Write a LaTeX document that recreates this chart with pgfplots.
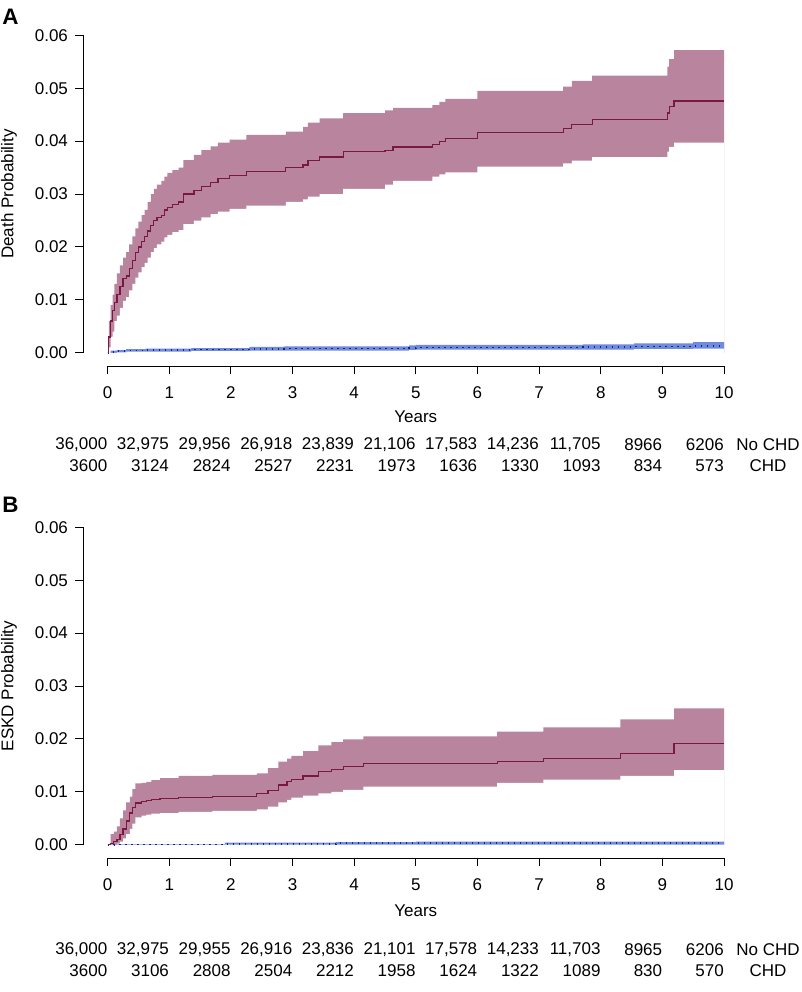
\documentclass[border=0pt]{standalone}
\usepackage{pgfplots}
\pgfplotsset{compat=1.18}
\usepackage{pgfplotstable}
\usepackage{fontspec}
\setmainfont{Liberation Sans}

\definecolor{chdband}{RGB}{184,132,158}
\definecolor{chdline}{RGB}{122,24,64}
\definecolor{noband}{RGB}{112,138,224}
\definecolor{noline}{RGB}{25,35,120}

% Panel A: CHD (death)
\pgfplotstableread{
t    est     lo      hi
0    0       0       0
0.02 0.003   0.001   0.006
0.05 0.006   0.003   0.009
0.08 0.008   0.004   0.011
0.11 0.0095  0.006   0.013
0.15 0.011   0.007   0.015
0.20 0.0125  0.0085  0.0165
0.25 0.014   0.0098  0.018
0.30 0.0145  0.0105  0.019
0.35 0.016   0.0118  0.0205
0.40 0.0175  0.013   0.022
0.45 0.019   0.0142  0.0235
0.50 0.020   0.0152  0.0248
0.55 0.021   0.0162  0.026
0.60 0.022   0.017   0.027
0.65 0.023   0.018   0.0285
0.70 0.024   0.019   0.030
0.75 0.025   0.0198  0.031
0.80 0.0255  0.0205  0.0318
0.87 0.026   0.021   0.0325
0.92 0.027   0.0218  0.0333
0.97 0.0275  0.0223  0.034
1.05 0.028   0.0228  0.0345
1.15 0.0285  0.0232  0.035
1.23 0.0300  0.0243  0.0364
1.40 0.0307  0.025   0.0374
1.52 0.0315  0.0256  0.0383
1.67 0.0322  0.0262  0.039
1.79 0.0330  0.0267  0.0397
1.98 0.0335  0.0272  0.0403
2.25 0.0342  0.0278  0.0412
2.89 0.0350  0.0285  0.0418
3.17 0.0355  0.029   0.0427
3.25 0.0364  0.0295  0.0435
3.44 0.0370  0.030   0.0443
3.82 0.0380  0.031   0.0453
4.50 0.0383  0.0318  0.0458
4.63 0.0389  0.0325  0.0463
5.27 0.0393  0.0333  0.0468
5.38 0.0399  0.0337  0.0474
5.48 0.0405  0.0341  0.0480
6.00 0.0416  0.0352  0.0495
7.39 0.0424  0.0358  0.0503
7.53 0.0432  0.0363  0.0514
7.86 0.0441  0.0370  0.0524
9.08 0.0453  0.0380  0.0541
9.11 0.0465  0.0389  0.0555
9.19 0.0476  0.0397  0.0572
10.0 0.0476  0.0397  0.0572
}\deathchd

% Panel A: No CHD (death)
\pgfplotstableread{
t    est     lo      hi
0    0       0       0
0.05 0.0002  0.0000  0.0004
0.15 0.0003  0.0001  0.0005
0.30 0.0004  0.0002  0.0007
0.62 0.0005  0.0002  0.0008
1.36 0.0006  0.0003  0.0009
2.30 0.0007  0.0004  0.0011
2.86 0.0008  0.0004  0.0012
4.89 0.0009  0.0005  0.0014
5.00 0.0010  0.0006  0.0015
7.71 0.0011  0.0006  0.0016
8.54 0.0012  0.0007  0.0018
9.50 0.0013  0.0008  0.0020
10.0 0.0013  0.0008  0.0020
}\deathno

% Panel B: CHD (ESKD)
\pgfplotstableread{
t    est     lo      hi
0    0       0       0
0.05 0.0003  0       0.002
0.10 0.0006  0       0.0025
0.15 0.001   0.0002  0.0035
0.20 0.002   0.0006  0.005
0.25 0.003   0.0012  0.0065
0.30 0.0045  0.002   0.008
0.36 0.006   0.003   0.0091
0.40 0.007   0.0040  0.0105
0.45 0.0079  0.0052  0.0116
0.55 0.0082  0.0055  0.0117
0.63 0.0084  0.0057  0.0119
0.71 0.0086  0.0059  0.0122
0.85 0.0087  0.006   0.0126
1.15 0.0089  0.0062  0.0130
1.70 0.0091  0.0064  0.0132
2.42 0.0097  0.0067  0.0135
2.60 0.0103  0.0072  0.0145
2.77 0.0113  0.0080  0.0157
2.91 0.0119  0.0085  0.0163
2.98 0.0124  0.0089  0.0168
3.17 0.0130  0.0093  0.0177
3.42 0.0138  0.0097  0.0188
3.63 0.0143  0.0100  0.0194
3.82 0.0148  0.0104  0.0199
4.15 0.0153  0.0110  0.0205
6.32 0.0158  0.0117  0.0214
7.07 0.0163  0.0123  0.0222
8.32 0.0172  0.0130  0.0237
9.19 0.0191  0.0141  0.0258
10.0 0.0191  0.0141  0.0258
}\eskdchd

% Panel B: No CHD (ESKD)
\pgfplotstableread{
t    est      lo      hi
0    0        0       0
0.10 0.00003  0.00000 0.00010
1.90 0.0002   0.00003 0.0004
3.70 0.0003   0.00005 0.0005
5.00 0.0003   0.00005 0.0006
10.0 0.0003   0.00005 0.0006
}\eskdno

\pgfplotsset{
  km/.style={
    scale only axis, width=320.5pt, height=165.35pt,
    xmin=-0.4, xmax=10, ymin=-0.0025, ymax=0.06,
    axis lines*=left, axis line style={draw=none},
    tick align=outside, major tick length=4pt,
    tick style={black, line width=0.5pt},
    xtick={0,1,2,3,4,5,6,7,8,9,10},
    ytick={0,0.01,0.02,0.03,0.04,0.05,0.06},
    scaled y ticks=false,
    clip=false,
    tick label style={font=\fontsize{8.5}{10}\selectfont},
    xticklabel style={yshift=-3pt},
    /pgf/number format/assume math mode=true,
    yticklabel style={/pgf/number format/fixed, /pgf/number format/fixed zerofill, /pgf/number format/precision=2},
  },
  bandhi/.style={const plot, draw=none, fill=#1, forget plot},
  bandlo/.style={const plot, draw=none, fill=white, forget plot},
  dotline/.style={const plot, noline, line width=0.8pt, dash pattern=on 0.6pt off 2.4pt},
}

\begin{document}
\begin{tikzpicture}[font=\fontsize{8.5}{10}\selectfont]
\useasboundingbox (0,0) rectangle (401pt,-496pt);

% ---------------- Panel A ----------------
\begin{axis}[km, at={(41.5pt,-183pt)}, anchor=south west]
  \addplot[bandhi=chdband] table[x=t,y=hi]{\deathchd} \closedcycle;
  \addplot[bandlo] table[x=t,y=lo]{\deathchd} \closedcycle;
  \addplot[bandhi=noband] table[x=t,y=hi]{\deathno} \closedcycle;
  \addplot[bandlo] table[x=t,y=lo]{\deathno} \closedcycle;
  \addplot[dotline] table[x=t,y=est]{\deathno};
  \addplot[const plot, chdline, line width=0.6pt] table[x=t,y=est]{\deathchd};
  \draw[line width=0.5pt] (axis cs:0,-0.0025) -- (axis cs:10,-0.0025);
  \draw[line width=0.5pt] (axis cs:-0.4,0) -- (axis cs:-0.4,0.06);
\end{axis}

% ---------------- Panel B ----------------
\begin{axis}[km, at={(41.5pt,-429pt)}, anchor=south west]
  \addplot[bandhi=chdband] table[x=t,y=hi]{\eskdchd} \closedcycle;
  \addplot[bandlo] table[x=t,y=lo]{\eskdchd} \closedcycle;
  \addplot[bandhi=noband] table[x=t,y=hi]{\eskdno} \closedcycle;
  \addplot[bandlo] table[x=t,y=lo]{\eskdno} \closedcycle;
  \addplot[dotline] table[x=t,y=est]{\eskdno};
  \addplot[const plot, chdline, line width=0.6pt] table[x=t,y=est]{\eskdchd};
  \draw[line width=0.5pt] (axis cs:0,-0.0025) -- (axis cs:10,-0.0025);
  \draw[line width=0.5pt] (axis cs:-0.4,0) -- (axis cs:-0.4,0.06);
\end{axis}

% panel letters
\node[font=\fontsize{11.2}{13}\selectfont\bfseries] at (5.25pt,-8.5pt) {A};
\node[font=\fontsize{11.2}{13}\selectfont\bfseries] at (5.25pt,-252.5pt) {B};

% axis titles
\node[rotate=90] at (4.5pt,-97pt) {Death Probability};
\node[rotate=90] at (4.5pt,-343pt) {ESKD Probability};
\node at (207.9pt,-208.5pt) {Years};
\node at (207.9pt,-455.5pt) {Years};

% numbers at risk, panel A
\foreach \i/\n in {0/{36,000},1/{32,975},2/{29,956},3/{26,918},4/{23,839},5/{21,106},6/{17,583},7/{14,236},8/{11,705},9/{8966},10/{6206}}
  \node[anchor=east, inner xsep=0pt] at ({53.85pt+30.825pt*\i},-222.5pt) {\n};
\foreach \i/\n in {0/3600,1/3124,2/2824,3/2527,4/2231,5/1973,6/1636,7/1330,8/1093,9/834,10/573}
  \node[anchor=east, inner xsep=0pt] at ({53.85pt+30.825pt*\i},-233pt) {\n};
\node at (384pt,-222.5pt) {No CHD};
\node at (384pt,-233pt) {CHD};

% numbers at risk, panel B
\foreach \i/\n in {0/{36,000},1/{32,975},2/{29,955},3/{26,916},4/{23,836},5/{21,101},6/{17,578},7/{14,233},8/{11,703},9/{8965},10/{6206}}
  \node[anchor=east, inner xsep=0pt] at ({53.85pt+30.825pt*\i},-475pt) {\n};
\foreach \i/\n in {0/3600,1/3106,2/2808,3/2504,4/2212,5/1958,6/1624,7/1322,8/1089,9/830,10/570}
  \node[anchor=east, inner xsep=0pt] at ({53.85pt+30.825pt*\i},-485.5pt) {\n};
\node at (384pt,-475pt) {No CHD};
\node at (384pt,-485.5pt) {CHD};
\end{tikzpicture}
\end{document}
